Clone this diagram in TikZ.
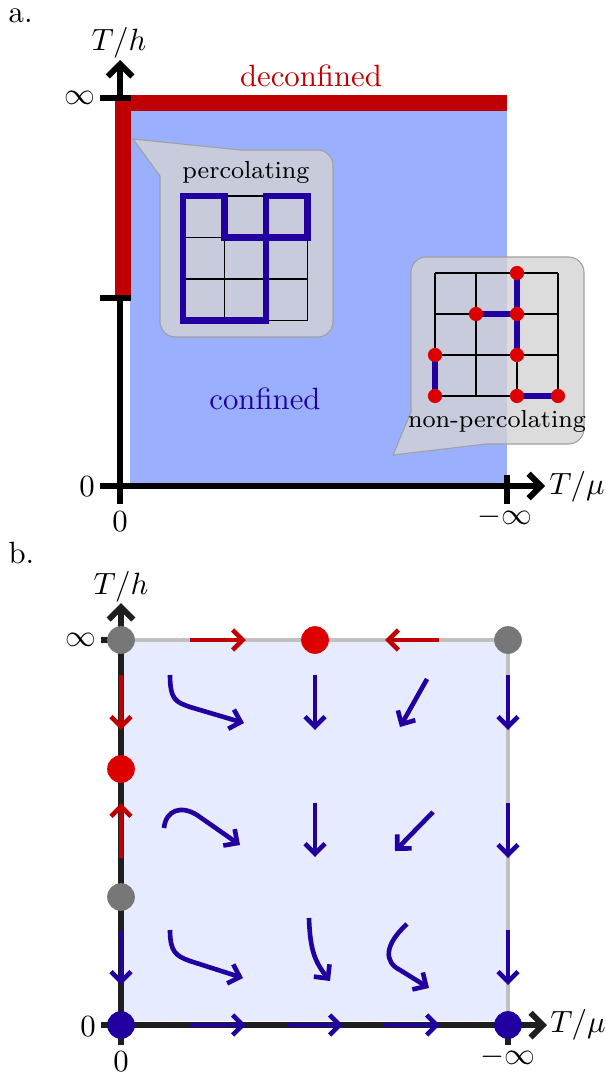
\documentclass[tikz,border=0pt]{standalone}
\usepackage{tikz}
\usetikzlibrary{arrows.meta}
\definecolor{decRed}{HTML}{C00000}
\definecolor{confBlue}{HTML}{9BAFFF}
\definecolor{confBlueLt}{HTML}{E6EBFF}
\definecolor{flowInk}{HTML}{2200A0}
\definecolor{fixRed}{HTML}{DD0000}
\definecolor{fixGray}{HTML}{777777}
\definecolor{edgeGray}{HTML}{C0C0C0}
\definecolor{axInk}{HTML}{1E1E1E}
\definecolor{bubbleG}{HTML}{D3D3D3}
\definecolor{bubbleEdge}{HTML}{A0A0A0}
\tikzset{
  ax/.style      = {line width=1.9pt, -{Straight Barb[length=4pt, width=8pt]}},
  tck/.style     = {line width=1.9pt},
  bubble/.style  = {fill=bubbleG, fill opacity=0.8, draw=bubbleEdge, line width=0.35pt},
  lat/.style     = {draw=black, line width=0.45pt},
  bond/.style    = {draw=flowInk, line width=2pt},
  site/.style    = {circle, fill=fixRed, minimum size=4.6pt, inner sep=0pt},
  fp/.style      = {circle, minimum size=9pt, inner sep=0pt},
  fpred/.style   = {fp, fill=fixRed},
  fpgray/.style  = {fp, fill=fixGray},
  fpblue/.style  = {fp, fill=flowInk},
  edg/.style     = {draw=edgeGray, line width=1.6pt},
  axb/.style     = {draw=axInk, line width=1.7pt},
  flw/.style     = {draw=flowInk, line width=1.5pt,
                    -{Straight Barb[length=3.3pt, width=6.5pt]}},
  flwred/.style  = {flw, draw=decRed},
  tag/.style     = {inner sep=0pt, anchor=west},
  bub/.style     = {font=\footnotesize, inner sep=0pt},
}

\begin{document}
\begin{tikzpicture}[x=0.325pt, y=-0.325pt]
    \useasboundingbox (0,0) rectangle (605,1076);
    % ---------- a. phase diagram
    \node[tag] (tagA) at (8,16) {a.};
    \fill[confBlue] (130,110) rectangle (507,486);
    \coordinate (oA) at (120,486);
    \coordinate (yA) at (120,60);
    \coordinate (xA) at (545,486);
    \draw[ax] (120,504) -- (yA);
    \draw[ax] (100,486) -- (xA);
    \draw[decRed, line width=4.9pt] (123,298) -- (123,103) -- (507,103);
    \draw[tck] (100,98) -- (131,98);
    \draw[tck] (100,298) -- (131,298);
    \draw[tck] (507,475) -- (507,504);
    \node (yLabA)  at (119,43)  {$T/h$};
    \node (xLabA)  at (577,487) {$T/\mu$};
    \node (infA)   at (80,98)   {$\infty$};
    \node (zeroYA) at (87,487)  {$0$};
    \node (zeroXA) at (120,522) {$0$};
    \node (minfA)  at (505,517) {$-\infty$};
    \node[text=decRed]  (decon) at (311,76)  {deconfined};
    \node[text=flowInk] (conf)  at (265,399) {confined};
    % percolating bubble
    \draw[bubble] (133,139) -- (240,150) [rounded corners=5] -- (333,150)
      -- (333,337) -- (160,337) [sharp corners] -- (160,176) -- cycle;
    \node[bub] (perc) at (246,172) {percolating};
    \foreach \i in {0,...,3}{%
      \draw[lat] (183+41.5*\i,196) -- (183+41.5*\i,320.5);
      \draw[lat] (183,196+41.5*\i) -- (307.5,196+41.5*\i);}
    \draw[bond] (183,196) -- (224.5,196) -- (224.5,237.5) -- (307.5,237.5)
      -- (307.5,196) -- (266,196) -- (266,320.5) -- (183,320.5) -- cycle;
    % non-percolating bubble
    \draw[bubble] (393,455) -- (411,412) [rounded corners=5] -- (411,257)
      -- (584,257) -- (584,444) [sharp corners] -- (486,444) -- cycle;
    \node[bub] (nperc) at (497,421) {non-percolating};
    \foreach \i in {0,...,3}{%
      \draw[lat] (435+41*\i,273) -- (435+41*\i,396);
      \draw[lat] (435,273+41*\i) -- (558,273+41*\i);}
    \coordinate (s1) at (517,273);
    \coordinate (s2) at (476,314);
    \coordinate (s3) at (517,314);
    \coordinate (s4) at (435,355);
    \coordinate (s5) at (517,355);
    \coordinate (s6) at (435,396);
    \coordinate (s7) at (517,396);
    \coordinate (s8) at (558,396);
    \draw[bond] (s1) -- (s3) -- (s5);
    \draw[bond] (s2) -- (s3);
    \draw[bond] (s4) -- (s6);
    \draw[bond] (s7) -- (s8);
    \foreach \s in {1,...,8}{\node[site] (site\s) at (s\s) {};}
    % ---------- b. RG flow
    \node[tag] (tagB) at (8,553) {b.};
    \fill[confBlueLt] (121,640) rectangle (508,1021);
    \coordinate (fTL) at (121,640);
    \coordinate (fTM) at (315,640);
    \coordinate (fTR) at (508,640);
    \coordinate (fLM) at (121,769);
    \coordinate (fLL) at (121,897);
    \coordinate (fO)  at (121,1025);
    \coordinate (fBR) at (508,1025);
    \coordinate (yB)  at (121,603);
    \coordinate (xB)  at (547,1025);
    \draw[edg] (fTL) -- (fTR) -- (fBR);
    \draw[axb, ax] (121,1045) -- (yB);
    \draw[axb, ax] (101,1025) -- (xB);
    \draw[axb] (101,640) -- (fTL);
    \draw[axb] (fBR) -- (508,1045);
    % flow along the edges
    \draw[flwred] (190,640) -- (246,640);
    \draw[flwred] (439,640) -- (385,640);
    \draw[flwred] (121,675) -- (121,730);
    \draw[flwred] (121,858) -- (121,803);
    \draw[flw] (121,930) -- (121,985);
    \foreach \y in {675,803,930}{\draw[flw] (508,\y) -- (508,\y+55);}
    \foreach \x in {190,287,384}{\draw[flw] (\x,1025) -- (\x+56,1025);}
    % flow inside
    \draw[flw] (170,675) .. controls (170,700) and (176,702) .. (190,707) -- (244,723);
    \draw[flw] (315,675) -- (315,730);
    \draw[flw] (427,679) -- (400,727);
    \draw[flw] (164,828) .. controls (166,810) and (181,805) .. (197,815) -- (240,845);
    \draw[flw] (315,803) -- (315,857);
    \draw[flw] (433,812) -- (395,851);
    \draw[flw] (170,930) .. controls (170,952) and (176,956) .. (190,961) -- (243,978);
    \draw[flw] (309,918) .. controls (310,950) and (315,962) .. (330,981);
    \draw[flw] (407,924) .. controls (384,945) and (384,962) .. (400,970) -- (429,988);
    % fixed points
    \node[fpgray] (pTL) at (fTL) {};
    \node[fpred]  (pTM) at (fTM) {};
    \node[fpgray] (pTR) at (fTR) {};
    \node[fpred]  (pLM) at (fLM) {};
    \node[fpgray] (pLL) at (fLL) {};
    \node[fpblue] (pO)  at (fO)  {};
    \node[fpblue] (pBR) at (fBR) {};
    \node (yLabB)  at (121,587)  {$T/h$};
    \node (xLabB)  at (578,1025) {$T/\mu$};
    \node (infB)   at (81,640)   {$\infty$};
    \node (zeroYB) at (88,1027)  {$0$};
    \node (zeroXB) at (121,1062) {$0$};
    \node (minfB)  at (508,1057) {$-\infty$};
\end{tikzpicture}
\end{document}
